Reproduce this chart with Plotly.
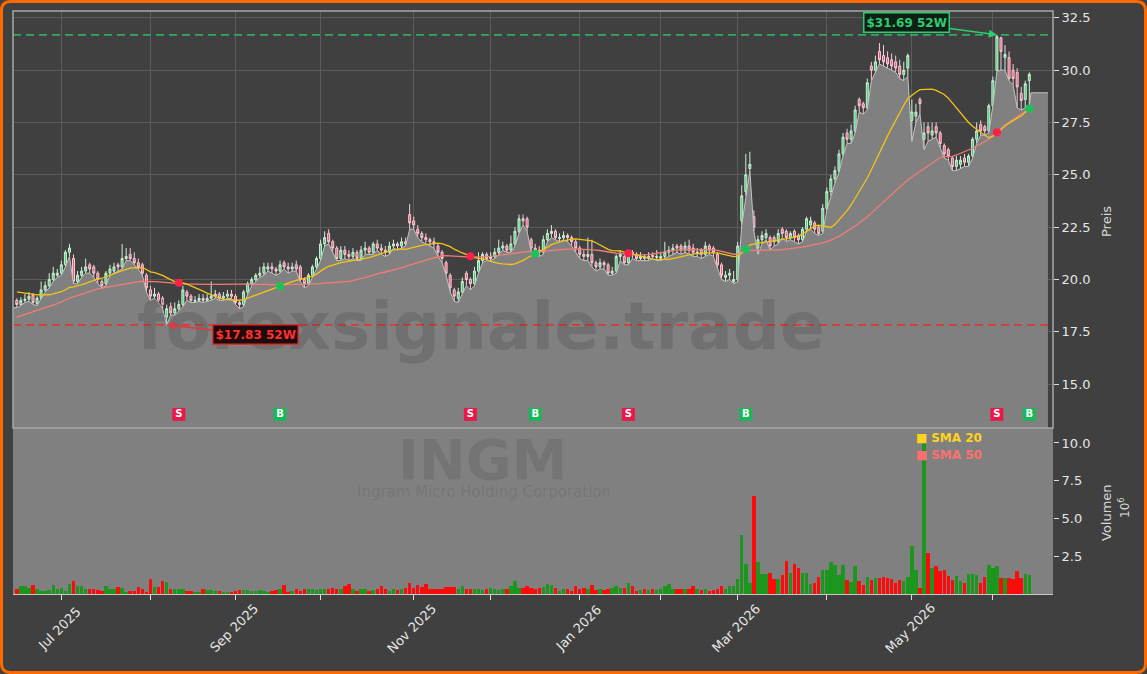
import numpy as np
import pandas as pd
import plotly.graph_objects as go

# ---------------- data ----------------
holidays = ["2025-06-19", "2025-07-04", "2025-09-01", "2025-11-27", "2025-12-25",
            "2026-01-01", "2026-01-19", "2026-02-16", "2026-04-03", "2026-05-25"]
dates = pd.bdate_range("2025-06-13", "2026-06-12")
dates = dates[~dates.isin(pd.to_datetime(holidays))]

open_ = [19.0, 18.8, 19.0, 19.05, 19.25, 18.85, 19.1, 19.5, 19.7, 20.0,
         20.2, 20.3, 20.7, 21.3, 21.0, 19.9, 20.2, 20.4, 20.7, 20.6,
         20.3, 19.9, 19.8, 20.3, 20.4, 20.7, 20.6, 21.0, 21.2, 21.0,
         20.8, 20.7, 20.2, 19.5, 19.2, 19.3, 19.1, 18.2, 18.7, 18.4,
         18.6, 18.8, 19.4, 19.2, 18.95, 19.0, 19.1, 19.0, 19.1, 19.2,
         19.3, 19.1, 19.2, 19.3, 19.2, 18.9, 18.8, 19.4, 19.8, 20.0,
         20.2, 20.3, 20.5, 20.6, 20.5, 20.4, 20.8, 20.6, 20.5, 20.7,
         20.6, 20.0, 19.8, 20.2, 20.6, 21.0, 21.7, 22.2, 21.8, 21.5,
         21.0, 21.4, 21.2, 21.1, 21.3, 21.0, 21.4, 21.5, 21.3, 21.7,
         21.5, 21.4, 21.3, 21.6, 21.7, 21.6, 21.8, 23.1, 22.8, 22.4,
         22.2, 22.0, 21.9, 21.8, 21.6, 21.3, 20.8, 20.2, 19.5, 19.1,
         19.4, 20.3, 20.0, 19.8, 20.4, 20.9, 21.2, 21.0, 21.1, 21.3,
         21.5, 21.6, 21.4, 21.7, 22.3, 22.9, 22.9, 21.9, 21.5, 21.4,
         21.3, 21.9, 22.2, 22.3, 21.95, 22.0, 22.1, 22.0, 21.8, 21.5,
         21.2, 21.1, 21.2, 20.8, 20.6, 20.8, 20.7, 20.3, 20.4, 21.1,
         21.1, 20.8, 21.3, 21.2, 21.0, 21.1, 21.0, 21.15, 21.05, 21.0,
         21.1, 21.3, 21.4, 21.6, 21.6, 21.4, 21.6, 21.5, 21.25, 21.4,
         21.2, 21.6, 21.5, 21.2, 20.7, 20.1, 20.2, 19.9, 20.0, 22.8,
         24.2, 25.3, 23.0, 21.5, 21.9, 22.0, 22.0, 22.0, 21.8, 22.4,
         22.3, 22.0, 22.3, 22.1, 21.9, 22.4, 22.6, 22.7, 22.5, 22.3,
         23.4, 24.2, 24.8, 25.2, 26.0, 27.0, 26.7, 27.1, 28.6, 28.4,
         28.2, 30.2, 30.0, 30.9, 30.7, 30.6, 30.5, 30.4, 30.2, 29.8,
         30.1, 27.6, 27.8, 28.6, 26.7, 27.3, 26.9, 27.3, 27.0, 26.4,
         26.2, 25.8, 25.4, 25.5, 25.8, 25.6, 25.9, 26.7, 27.4, 27.3,
         27.1, 28.3, 30.0, 31.55, 30.6, 30.6, 30.0, 29.9, 28.9, 28.6,
         29.5]
high_ = [19.1, 19.15, 19.3, 19.4, 19.35, 19.2, 19.9, 19.9, 20.3, 20.6,
         20.5, 20.9, 21.4, 21.7, 21.2, 20.4, 20.6, 21.0, 20.8, 20.7,
         20.4, 20.0, 20.4, 20.7, 20.8, 20.8, 21.7, 21.5, 21.5, 21.3,
         21.0, 20.8, 20.3, 19.7, 19.6, 19.4, 19.2, 18.8, 18.9, 18.9,
         19.0, 19.7, 19.5, 19.3, 19.2, 19.3, 19.3, 19.3, 19.9, 19.5,
         19.4, 19.4, 19.5, 19.5, 19.3, 19.0, 19.5, 19.9, 20.1, 20.3,
         20.6, 20.8, 20.8, 20.8, 20.6, 20.9, 20.9, 20.8, 20.8, 20.9,
         20.7, 20.1, 20.3, 20.7, 21.1, 21.9, 22.3, 22.4, 21.9, 21.6,
         21.6, 21.6, 21.4, 21.5, 21.4, 21.6, 21.8, 21.6, 21.8, 21.9,
         21.7, 21.6, 21.8, 21.9, 21.8, 22.0, 22.0, 23.6, 23.0, 22.6,
         22.3, 22.2, 22.0, 22.0, 21.7, 21.4, 20.9, 20.3, 19.6, 19.6,
         20.1, 20.4, 20.1, 20.6, 21.3, 21.3, 21.3, 21.3, 21.5, 21.9,
         21.8, 21.7, 22.1, 22.5, 23.1, 23.1, 23.0, 22.0, 21.7, 21.6,
         22.1, 22.4, 22.6, 22.4, 22.2, 22.3, 22.2, 22.1, 21.9, 21.6,
         21.4, 22.0, 21.9, 20.9, 21.0, 20.9, 20.8, 20.6, 21.2, 21.4,
         21.2, 21.4, 21.4, 21.3, 21.3, 21.2, 21.3, 21.3, 21.4, 21.3,
         21.8, 21.6, 21.7, 21.7, 21.7, 21.8, 21.9, 21.7, 21.5, 21.5,
         21.8, 21.7, 21.6, 21.3, 20.8, 20.4, 20.5, 20.4, 21.8, 24.5,
         26.0, 26.1, 23.3, 22.1, 22.3, 22.4, 22.1, 22.1, 22.4, 22.5,
         22.4, 22.3, 22.4, 22.2, 22.5, 23.0, 23.0, 22.8, 22.6, 23.6,
         24.4, 25.0, 25.4, 26.2, 27.0, 27.2, 27.4, 28.3, 28.7, 28.5,
         29.6, 30.4, 30.7, 31.3, 31.2, 30.9, 30.8, 30.7, 30.5, 30.4,
         30.8, 28.6, 28.4, 28.7, 27.5, 27.5, 27.5, 27.5, 27.1, 26.5,
         26.3, 25.9, 25.9, 25.9, 26.0, 26.0, 26.8, 27.5, 27.6, 27.4,
         28.4, 29.7, 31.69, 31.6, 31.2, 30.9, 30.3, 30.1, 29.2, 29.5,
         29.9]
low_ = [18.65, 18.75, 18.9, 18.95, 18.8, 18.75, 19.05, 19.4, 19.6, 19.9,
        20.1, 20.2, 20.6, 21.1, 19.8, 19.8, 20.1, 20.3, 20.3, 20.1,
        19.8, 19.6, 19.7, 20.2, 20.3, 20.4, 20.5, 20.9, 20.9, 20.7,
        20.5, 20.2, 19.4, 19.0, 19.1, 18.9, 18.6, 17.83, 18.3, 18.3,
        18.5, 18.7, 19.0, 18.9, 18.9, 18.95, 18.9, 18.95, 19.0, 19.1,
        19.0, 19.0, 19.1, 19.1, 18.8, 18.6, 18.7, 19.3, 19.7, 19.9,
        20.1, 20.2, 20.4, 20.3, 20.2, 20.3, 20.5, 20.3, 20.4, 20.4,
        19.9, 19.6, 19.7, 20.1, 20.5, 20.9, 21.6, 21.7, 21.3, 20.9,
        20.9, 21.0, 20.9, 21.0, 20.9, 20.9, 21.2, 21.2, 21.2, 21.4,
        21.2, 21.1, 21.2, 21.5, 21.4, 21.5, 21.6, 22.4, 22.4, 22.0,
        21.8, 21.7, 21.6, 21.5, 21.1, 20.8, 20.2, 19.4, 18.95, 18.9,
        19.3, 19.7, 19.5, 19.7, 20.3, 20.8, 20.9, 20.9, 21.0, 21.2,
        21.4, 21.3, 21.3, 21.6, 22.2, 22.6, 22.3, 21.3, 21.2, 21.1,
        21.2, 21.8, 22.0, 21.9, 21.8, 21.9, 21.8, 21.6, 21.3, 21.0,
        20.9, 20.9, 20.6, 20.4, 20.5, 20.5, 20.2, 20.2, 20.3, 20.9,
        20.7, 20.7, 21.0, 20.9, 20.9, 20.9, 20.9, 21.0, 20.9, 20.9,
        21.0, 21.1, 21.2, 21.3, 21.2, 21.3, 21.2, 21.1, 21.1, 21.0,
        21.1, 21.2, 21.1, 20.5, 20.0, 19.9, 20.0, 19.8, 19.9, 22.6,
        24.0, 25.2, 22.3, 21.2, 21.7, 21.9, 21.4, 21.6, 21.7, 22.0,
        21.8, 21.9, 21.8, 21.7, 21.8, 22.3, 22.4, 22.2, 22.1, 22.2,
        23.3, 24.0, 24.6, 25.1, 25.9, 26.5, 26.5, 27.0, 28.0, 27.9,
        28.1, 29.5, 29.9, 30.3, 30.2, 30.1, 30.0, 29.9, 29.6, 29.5,
        29.7, 26.6, 27.5, 27.9, 26.2, 26.6, 26.7, 26.8, 26.3, 25.8,
        25.7, 25.2, 25.2, 25.3, 25.4, 25.4, 25.8, 26.5, 26.9, 26.9,
        27.0, 28.3, 29.95, 30.0, 30.0, 29.5, 29.3, 28.2, 28.1, 28.2,
        28.3]
close_ = [18.8, 19.0, 19.05, 19.2, 18.9, 19.1, 19.5, 19.7, 20.0, 20.3,
          20.3, 20.7, 21.3, 21.5, 19.9, 20.2, 20.4, 20.6, 20.5, 20.3,
          20.0, 19.7, 20.3, 20.5, 20.6, 20.6, 21.0, 21.1, 21.0, 20.8,
          20.6, 20.3, 19.6, 19.2, 19.3, 19.0, 18.8, 18.6, 18.4, 18.6,
          18.8, 19.5, 19.2, 19.0, 19.0, 19.1, 19.0, 19.1, 19.2, 19.3,
          19.1, 19.2, 19.3, 19.2, 18.9, 18.8, 19.4, 19.8, 20.0, 20.2,
          20.3, 20.6, 20.6, 20.5, 20.4, 20.7, 20.6, 20.5, 20.6, 20.5,
          20.0, 19.8, 20.2, 20.6, 21.0, 21.7, 22.0, 21.8, 21.5, 21.0,
          21.4, 21.2, 21.1, 21.3, 21.0, 21.4, 21.5, 21.3, 21.7, 21.5,
          21.4, 21.3, 21.6, 21.7, 21.6, 21.8, 21.7, 22.7, 22.6, 22.2,
          22.0, 21.9, 21.8, 21.7, 21.3, 21.0, 20.3, 19.6, 19.2, 19.4,
          19.9, 20.0, 19.8, 20.4, 20.9, 21.2, 21.0, 21.1, 21.3, 21.5,
          21.6, 21.4, 21.7, 22.3, 22.9, 22.8, 22.5, 21.5, 21.4, 21.3,
          21.9, 22.2, 22.3, 22.0, 22.0, 22.1, 22.0, 21.8, 21.5, 21.2,
          21.1, 21.2, 20.8, 20.6, 20.8, 20.7, 20.3, 20.4, 21.1, 21.2,
          20.8, 21.2, 21.2, 21.0, 21.1, 21.0, 21.1, 21.1, 21.1, 21.1,
          21.3, 21.4, 21.5, 21.5, 21.4, 21.6, 21.4, 21.3, 21.3, 21.2,
          21.6, 21.4, 21.3, 20.7, 20.2, 20.2, 20.3, 20.0, 21.6, 24.0,
          25.0, 25.5, 22.5, 21.9, 22.1, 22.2, 21.6, 21.8, 22.2, 22.2,
          22.0, 22.2, 22.0, 21.9, 22.4, 22.9, 22.8, 22.4, 22.2, 23.4,
          24.2, 24.8, 25.2, 26.0, 26.8, 26.7, 27.1, 28.1, 28.3, 28.2,
          29.4, 30.0, 30.4, 30.5, 30.4, 30.3, 30.2, 30.1, 29.8, 30.0,
          30.7, 28.0, 28.0, 28.4, 27.0, 27.0, 27.1, 27.0, 26.5, 26.0,
          25.9, 25.4, 25.7, 25.7, 25.6, 25.9, 26.7, 27.1, 27.1, 27.1,
          28.3, 29.5, 31.6, 30.9, 30.75, 29.6, 29.6, 29.2, 28.55, 29.35,
          29.8]
# closes before the visible window (only feed the moving averages)
pre_close = [15.8, 16.0, 16.2, 16.1, 16.3, 16.5, 16.4, 16.2, 16.6, 16.8,
             16.7, 16.5, 16.8, 17.0, 16.9, 17.1, 17.2, 17.0, 17.3, 17.5,
             18.2, 18.5, 18.7, 18.6, 18.9, 19.1, 19.0, 19.3, 19.2, 19.5,
             19.6, 19.4, 19.7, 19.8, 19.5, 19.6, 19.9, 19.7, 19.5, 19.3,
             19.6, 19.4, 19.2, 19.5, 19.3, 19.1, 19.3, 19.0, 18.9]
volume_m = [0.33, 0.5, 0.55, 0.4, 0.6, 0.3, 0.2, 0.2, 0.25, 0.6,
            0.35, 0.4, 0.2, 0.66, 0.83, 0.55, 0.5, 0.3, 0.3, 0.3,
            0.25, 0.2, 0.5, 0.35, 0.35, 0.45, 0.4, 0.15, 0.2, 0.2,
            0.45, 0.3, 0.15, 1.0, 0.45, 0.45, 0.85, 0.77, 0.3, 0.3,
            0.3, 0.3, 0.2, 0.2, 0.1, 0.15, 0.35, 0.25, 0.25, 0.2,
            0.2, 0.15, 0.1, 0.15, 0.2, 0.25, 0.25, 0.25, 0.2, 0.2,
            0.25, 0.2, 0.15, 0.2, 0.25, 0.3, 0.6, 0.15, 0.2, 0.3,
            0.2, 0.35, 0.35, 0.3, 0.25, 0.3, 0.35, 0.3, 0.4, 0.35,
            0.35, 0.55, 0.66, 0.3, 0.2, 0.3, 0.35, 0.2, 0.25, 0.3,
            0.5, 0.3, 0.2, 0.35, 0.25, 0.3, 0.4, 0.72, 0.4, 0.6,
            0.45, 0.66, 0.3, 0.35, 0.3, 0.3, 0.45, 0.45, 0.45, 0.3,
            0.5, 0.3, 0.3, 0.3, 0.3, 0.25, 0.3, 0.4, 0.3, 0.25,
            0.3, 0.3, 0.55, 0.85, 0.4, 0.4, 0.5, 0.4, 0.3, 0.4,
            0.45, 0.66, 0.6, 0.4, 0.2, 0.3, 0.3, 0.2, 0.5, 0.3,
            0.4, 0.3, 0.6, 0.25, 0.3, 0.25, 0.3, 0.4, 0.5, 0.4,
            0.4, 0.7, 0.5, 0.2, 0.25, 0.3, 0.25, 0.3, 0.25, 0.3,
            0.55, 0.65, 0.35, 0.35, 0.35, 0.35, 0.3, 0.5, 0.3, 0.25,
            0.35, 0.2, 0.25, 0.3, 0.55, 0.35, 0.5, 0.55, 0.97, 3.9,
            2.0, 0.7, 6.5, 2.1, 1.3, 1.3, 1.4, 1.0, 1.0, 1.25,
            2.2, 1.4, 2.0, 1.7, 1.4, 1.4, 0.66, 0.7, 1.1, 1.6,
            1.6, 2.15, 1.95, 1.25, 1.9, 0.95, 0.8, 1.85, 0.85, 0.6,
            1.1, 0.95, 1.05, 1.05, 1.1, 1.05, 1.0, 0.75, 0.9, 0.85,
            1.15, 3.15, 1.6, 0.37, 10.1, 2.7, 1.75, 1.85, 1.5, 1.6,
            1.2, 0.9, 1.2, 0.85, 0.75, 1.35, 1.3, 1.25, 0.7, 1.15,
            1.9, 1.7, 1.85, 1.05, 1.05, 1.05, 1.0, 1.5, 1.05, 1.3,
            1.25]
signal_dates = ["2025-08-12", "2025-09-17", "2025-11-21", "2025-12-16",
                "2026-01-21", "2026-03-04", "2026-06-02", "2026-06-12"]
signal_types = ["S", "B", "S", "B", "S", "B", "S", "B"]
area_tail_value = 28.92
price_ticks = [15.0, 17.5, 20.0, 22.5, 25.0, 27.5, 30.0, 32.5]
volume_ticks = [2.5, 5.0, 7.5, 10.0]
ticker = "INGM"
company = "Ingram Micro Holding Corporation"
watermark = "forexsignale.trade"

# ---------------- derived ----------------
n = len(dates)
idx = np.arange(n)
full_close = pd.Series(pre_close + close_)
sma20 = full_close.rolling(20).mean().iloc[len(pre_close):].to_numpy()
sma50 = full_close.rolling(50).mean().iloc[len(pre_close):].to_numpy()
hi52 = max(high_)
lo52 = min(low_)
i_hi = int(np.argmax(high_))
i_lo = int(np.argmin(low_))
up = [c >= o for o, c in zip(open_, close_)]

month_idx, month_txt = [], []
prev = None
for i, d in enumerate(dates):
    if prev is None or d.month != prev:
        if prev is not None:
            month_idx.append(i)
            month_txt.append(d.strftime("%b %Y") if d.month % 2 == 1 else "")
        prev = d.month

sig_idx = [dates.get_loc(pd.Timestamp(s)) for s in signal_dates]

# ---------------- layout geometry ----------------
W, H = 1147, 674
L, R, T, B = 13, 1053, 11, 594
SPLIT = 428
pw, ph = R - L, B - T
price_dom0 = (B - SPLIT) / ph
XMIN, XMAX = -0.94, 255.85


def px(x):
    return (x - L) / pw


def py(y):
    return (B - y) / ph


FONT = "DejaVu Sans"
TXT = "#e6e6e6"
GRID = "#5c5c5c"

fig = go.Figure()

# area (lows)
ax_ = [XMIN] + list(idx) + [n - 1 + 0.4, n - 1 + 4.6]
ay_ = [low_[0]] + list(low_) + [area_tail_value, area_tail_value]
fig.add_trace(go.Scatter(x=ax_, y=ay_, mode="lines", fill="tozeroy",
                         fillcolor="#808080", line=dict(color="#c4c4c4", width=1),
                         hoverinfo="skip", xaxis="x", yaxis="y"))

fig.add_trace(go.Candlestick(x=idx, open=open_, high=high_, low=low_, close=close_,
                             increasing=dict(line=dict(color="#cfeed6", width=1), fillcolor="#3fcf75"),
                             decreasing=dict(line=dict(color="#f5cdd6", width=1), fillcolor="#f0577a"),
                             whiskerwidth=0, xaxis="x", yaxis="y"))

fig.add_trace(go.Scatter(x=idx, y=sma50, mode="lines", line=dict(color="#f27c74", width=1.3),
                         xaxis="x", yaxis="y", name="SMA 50"))
fig.add_trace(go.Scatter(x=idx, y=sma20, mode="lines", line=dict(color="#f2c418", width=1.3),
                         xaxis="x", yaxis="y", name="SMA 20"))

sig_col = ["#ff1f4b" if t == "S" else "#18c45a" for t in signal_types]
fig.add_trace(go.Scatter(x=sig_idx, y=[sma20[i] for i in sig_idx], mode="markers",
                         marker=dict(color=sig_col, size=8), xaxis="x", yaxis="y"))
box_col = ["#e8194a" if t == "S" else "#18b85a" for t in signal_types]
fig.add_trace(go.Scatter(x=sig_idx, y=[13.55] * len(sig_idx), mode="markers+text",
                         marker=dict(symbol="square", size=13, color=box_col),
                         text=signal_types, textposition="middle center",
                         textfont=dict(color="white", size=10, family=FONT, weight="bold"),
                         xaxis="x", yaxis="y"))

vol_col = ["#1c961c" if u else "#ff0a0a" for u in up]
fig.add_trace(go.Bar(x=idx, y=volume_m, marker=dict(color=vol_col, line=dict(width=0)),
                     width=0.85, xaxis="x2", yaxis="y2"))

shapes = [
    dict(type="rect", xref="paper", yref="paper", x0=0, x1=1, y0=0, y1=price_dom0,
         fillcolor="#808080", line=dict(width=0), layer="below"),
    dict(type="line", xref="paper", yref="y", x0=0, x1=1, y0=hi52, y1=hi52,
         line=dict(color="#34a863", width=1.6, dash="8px,5px")),
    dict(type="line", xref="paper", yref="y", x0=0, x1=1, y0=lo52, y1=lo52,
         line=dict(color="#d9393b", width=1.6, dash="8px,5px")),
    dict(type="rect", xref="paper", yref="paper", x0=0, x1=1, y0=price_dom0, y1=1,
         line=dict(color="#a6a6a6", width=1.5)),
]
# outer rounded orange frame
x0, x1, y0, y1, r = 1.5, W - 1.5, 1.5, H - 1.5, 9
pts = [("M", x0 + r, y0), ("L", x1 - r, y0), ("Q", x1, y0, x1, y0 + r), ("L", x1, y1 - r),
       ("Q", x1, y1, x1 - r, y1), ("L", x0 + r, y1), ("Q", x0, y1, x0, y1 - r),
       ("L", x0, y0 + r), ("Q", x0, y0, x0 + r, y0)]
path = ""
for p in pts:
    cmd, coords = p[0], p[1:]
    segs = []
    for k in range(0, len(coords), 2):
        segs.append(f"{px(coords[k]):.5f},{py(coords[k + 1]):.5f}")
    path += cmd + " " + " ".join(segs) + " "
path += "Z"
shapes.append(dict(type="path", xref="paper", yref="paper", path=path,
                   line=dict(color="#ff6a00", width=3)))


def pann(x, y, text, size, color, **kw):
    d = dict(x=px(x), y=py(y), xref="paper", yref="paper", text=text, showarrow=False,
             xanchor="center", yanchor="middle",
             font=dict(family=FONT, size=size, color=color))
    d.update(kw)
    return d


annotations = [
    pann(481, 326, f"<b>{watermark}</b>", 66, "rgba(30,30,30,0.16)"),
    pann(482, 459, f"<b>{ticker}</b>", 56, "rgba(60,60,60,0.17)"),
    pann(484, 492, company, 15, "rgba(60,60,60,0.17)"),
    dict(x=i_hi, y=hi52, xref="x", yref="y", text=f"<b>${hi52:.2f} 52W</b>",
         showarrow=True, ax=-90, ay=-12, arrowhead=2, arrowsize=1, arrowwidth=1.6,
         arrowcolor="#2ecc71", font=dict(family=FONT, size=12, color="#2ecc71"),
         bgcolor="#0f1f15", bordercolor="#2ecc71", borderwidth=1.5, borderpad=2),
    dict(x=i_lo, y=lo52, xref="x", yref="y", text=f"<b>${lo52:.2f} 52W</b>",
         showarrow=True, ax=89, ay=10, arrowhead=2, arrowsize=1, arrowwidth=1.6,
         arrowcolor="#e03a3a", font=dict(family=FONT, size=12, color="#ff3030"),
         bgcolor="#1e0b0b", bordercolor="#d83030", borderwidth=1.5, borderpad=2),
    pann(914, 438, "■ <b>SMA 20</b>", 12, "#ffd21f", xanchor="left"),
    pann(914, 455, "■ <b>SMA 50</b>", 12, "#ff6f6f", xanchor="left"),
    pann(1106, 222, "Preis", 13, "#d8d8d8", textangle=-90),
    pann(1106, 513, "Volumen", 13, "#d8d8d8", textangle=-90),
    pann(1124, 508, "10<sup>6</sup>", 12, "#d8d8d8", textangle=-90),
]
# month labels centred under their ticks (rotated)
for mi, mt in zip(month_idx, month_txt):
    if mt:
        annotations.append(dict(x=mi, y=py(628), xref="x2", yref="paper", text=mt,
                                textangle=-45, showarrow=False, xanchor="center",
                                yanchor="middle", xshift=-2,
                                font=dict(family=FONT, size=13, color=TXT)))

fig.update_layout(
    width=W, height=H, margin=dict(l=L, r=W - R, t=T, b=H - B),
    paper_bgcolor="#404040", plot_bgcolor="#404040", showlegend=False,
    font=dict(family=FONT, color=TXT, size=13),
    xaxis=dict(domain=[0, 1], anchor="y", range=[XMIN, XMAX], tickvals=month_idx,
               showticklabels=False, ticks="", showgrid=True, gridcolor=GRID, gridwidth=1,
               zeroline=False, rangeslider=dict(visible=False)),
    xaxis2=dict(domain=[0, 1], anchor="y2", range=[XMIN, XMAX], matches="x",
                tickvals=month_idx, showticklabels=False, ticks="outside",
                ticklen=5, tickcolor="#dcdcdc", showgrid=False, zeroline=False,
                showline=True, linecolor="#c8c8c8", linewidth=1),
    yaxis=dict(domain=[price_dom0, 1], anchor="x", side="right", range=[12.9, 32.83],
               tickvals=price_ticks, ticktext=[f"{v:.1f}" for v in price_ticks],
               ticks="outside", ticklen=5, tickcolor="#dcdcdc", showgrid=True,
               gridcolor=GRID, zeroline=False, tickfont=dict(family=FONT, size=13, color=TXT)),
    yaxis2=dict(domain=[0, price_dom0], anchor="x2", side="right", range=[0, 10.99],
                tickvals=volume_ticks, ticktext=[f"{v:.1f}" for v in volume_ticks],
                ticks="outside", ticklen=5, tickcolor="#dcdcdc", showgrid=False,
                zeroline=False, tickfont=dict(family=FONT, size=13, color=TXT)),
    shapes=shapes, annotations=annotations, bargap=0,
)

fig.write_html("out.html")
